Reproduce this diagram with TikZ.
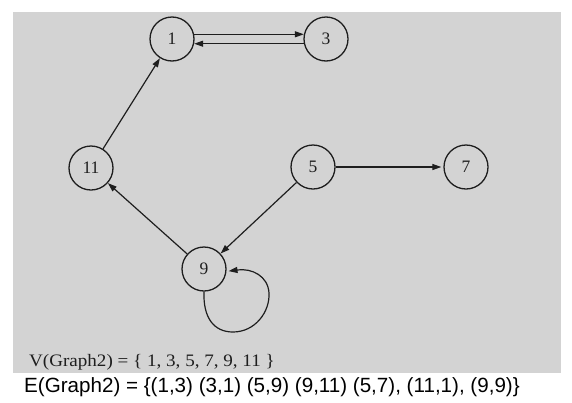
\documentclass[tikz,border=0pt]{standalone}
\usepackage{fontspec}
\newfontfamily\arialfont{Liberation Sans}
\newfontfamily\seriffont{Liberation Serif}
\usetikzlibrary{arrows.meta}
\definecolor{bggray}{RGB}{211,211,211}
\definecolor{ink}{RGB}{30,30,30}
\tikzset{
  vertex/.style={circle,draw=ink,line width=1.3pt,minimum size=44pt,inner sep=0pt,
    font=\seriffont\fontsize{17.5}{20}\selectfont,text=ink},
  arr/.style={draw=ink,line width=1.2pt,-{Triangle[length=9pt,width=6pt]}},
}
\begin{document}
\begin{tikzpicture}[x=1pt,y=-1pt]
\useasboundingbox (0,0) rectangle (572,402);
\fill[white] (0,0) rectangle (572,402);
\fill[bggray] (13,12) rectangle (561,373);

\node[vertex] (n1) at (172,39) {1};
\node[vertex] (n3) at (326,39) {3};
\node[vertex] (n11) at (91,168) {11};
\node[vertex] (n5) at (313,167) {5};
\node[vertex] (n7) at (466,167) {7};
\node[vertex] (n9) at (204,269) {9};

\draw[arr] (n1.12) -- (n3.168);
\draw[arr] (n3.-168) -- (n1.-12);
\draw[arr] (n11) -- (n1);
\draw[arr,shorten >=2pt] (n5) -- (n7);
\draw[arr] (n5) -- (n9);
\draw[arr] (n9) -- (n11);
\draw[arr,shorten >=2pt] (n9.south) .. controls (203,318) and (214,332) .. (233,332)
  .. controls (255,332) and (270,312) .. (269,293)
  .. controls (268,276) and (252,268) .. (n9.-6);

\node[anchor=base west,inner sep=0pt,text=ink,font=\seriffont\fontsize{17.5}{20}\selectfont] (vtext) at (29,366)
  {\scalebox{1.09}[1]{V(Graph2) = \{ 1, 3, 5, 7, 9, 11 \}}};
\node[anchor=base west,inner sep=0pt,font=\arialfont\fontsize{20.6}{24}\selectfont] (etext) at (24,392)
  {E(Graph2) = \{(1,3) (3,1) (5,9) (9,11) (5,7), (11,1), (9,9)\}};
\end{tikzpicture}
\end{document}
